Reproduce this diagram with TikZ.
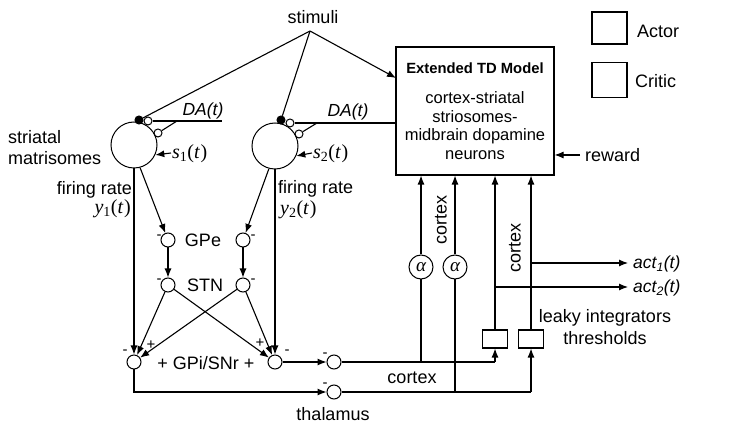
\documentclass[tikz,border=0pt]{standalone}
\usepackage{fontspec}
\setmainfont{Liberation Sans}
\newfontfamily\serifx{Liberation Serif}
\usetikzlibrary{arrows.meta}
\newcommand{\vsym}[2]{{\serifx\textit{#1}\textsubscript{#2}(\textit{t\kern1pt})}}
\begin{document}
\begin{tikzpicture}[x=1pt,y=-1pt,
  lbl/.style={font=\fontsize{18}{20}\selectfont, inner sep=0pt},
  small/.style={font=\fontsize{16.5}{19}\selectfont, inner sep=0pt},
  sgn/.style={font=\fontsize{15}{16}\selectfont, inner sep=0pt},
  mth/.style={font=\fontsize{20}{22}\selectfont, inner sep=0pt},
  neuron/.style={circle, draw, line width=1pt, minimum size=14pt, inner sep=0pt},
  tiny/.style={circle, draw, line width=1pt, minimum size=8pt, inner sep=0pt},
  bigc/.style={circle, draw, line width=1pt, minimum size=46pt, inner sep=0pt},
  arr/.style={-{Latex[length=9pt,width=7pt]}, line width=1.1pt},
  ln/.style={line width=1.1pt},
  boxs/.style={draw, line width=1.1pt, inner sep=0pt},
  ital/.style={font=\fontsize{17.5}{19}\selectfont\itshape, inner sep=0pt},
]
\useasboundingbox (0,0) rectangle (748,430);

% stimuli
\node[lbl] (stim) at (313,17) {stimuli};
\coordinate (sp) at (310,31);

% striatal circles
\node[bigc] (m1) at (134,145) {};
\node[bigc] (m2) at (275,146) {};
\node[tiny, fill=black] (b1) at (139,120) {};
\node[tiny] (o1) at (148,121) {};
\node[tiny] (p1) at (158,133) {};
\node[tiny, fill=black] (b2) at (281,120) {};
\node[tiny] (o2) at (290,123) {};
\node[tiny] (p2) at (299,134) {};

% TD box
\node[boxs, minimum width=158pt, minimum height=128pt] (td) at (475,111) {};
\node[small, font=\fontsize{14.8}{18}\selectfont\bfseries] (tdt) at (475,68) {Extended TD Model};
\node[small] (tdl1) at (475,98) {cortex-striatal};
\node[small] (tdl2) at (475,117) {striosomes-};
\node[small] (tdl3) at (475,136) {midbrain dopamine};
\node[small] (tdl4) at (475,155) {neurons};

% legend
\node[boxs, minimum width=35pt, minimum height=32pt] (actbox) at (609.5,28) {};
\node[lbl, anchor=west] (actlab) at (637,31) {Actor};
\node[boxs, minimum width=35pt, minimum height=35pt] (critbox) at (609.5,80) {};
\node[lbl, anchor=west] (critlab) at (635,81) {Critic};

% stimuli connections
\coordinate (tdin) at (396,78);
\draw[ln] (sp) -- (b1);
\draw[ln] (sp) -- (b2);
\draw[arr] (sp) -- (tdin);

% DA lines
\coordinate (da1e) at (222,121);
\coordinate (da1j) at (177,121);
\draw[ln] (o1) -- (da1e);
\draw[ln] (p1) -- (da1j);
\node[ital] (da1) at (203,111) {DA(t)};
\coordinate (da2e) at (td.west |- o2);
\coordinate (da2j) at (317,123);
\draw[ln] (o2) -- (da2e);
\draw[ln] (p2) -- (da2j);
\node[ital] (da2) at (348,112) {DA(t)};

% s inputs
\coordinate (s1s) at (171,153);
\coordinate (s2s) at (312,153);
\draw[arr] (s1s) -- (m1.-25);
\draw[arr] (s2s) -- (m2.-25);
\node[mth, anchor=west] (s1l) at (172,154) {\vsym{s}{1}};
\node[mth, anchor=west] (s2l) at (313,154) {\vsym{s}{2}};

% reward
\coordinate (rw) at (580,155);
\draw[arr] (rw) -- (td.east |- rw);
\node[lbl, anchor=west] (rwl) at (585,155) {reward};

% left labels
\node[lbl, anchor=west] (str1) at (8,137) {striatal};
\node[lbl, anchor=west] (str2) at (8,158) {matrisomes};
\node[lbl, anchor=east] (fr1) at (132,190) {firing rate};
\node[mth, anchor=east] (y1) at (131,209) {\vsym{y}{1}};
\node[lbl, anchor=west] (fr2) at (278,189) {firing rate};
\node[mth, anchor=west] (y2) at (280,210) {\vsym{y}{2}};

% basal ganglia nodes
\node[neuron] (gl) at (168,240) {};
\node[neuron] (gr) at (243,240) {};
\node[neuron] (sl) at (168,285) {};
\node[neuron] (sr) at (243,285) {};
\node[neuron] (pl) at (134,362) {};
\node[neuron] (pr) at (275,362) {};
\node[neuron] (t1) at (334,362) {};
\node[neuron] (t2) at (334,392) {};
\node[lbl] (gpe) at (203,240) {GPe};
\node[lbl] (stn) at (205,285) {STN};
\node[lbl] (gpi) at (206,363) {+ GPi/SNr +};
\node[lbl] (thal) at (333,414) {thalamus};
\node[sgn] at (159,237) {-};
\node[sgn] at (253,237) {-};
\node[sgn] at (159,281) {-};
\node[sgn] at (253,281) {-};
\node[sgn] at (125,352) {-};
\node[sgn] at (151,345) {+};
\node[sgn] at (260,343) {+};
\node[sgn] at (287,352) {-};
\node[sgn] at (325,355) {-};
\node[sgn] at (325,385) {-};

% striatum to BG
\draw[arr] (m1.south) -- (pl.north);
\draw[arr] (m1.-75) -- (gl);
\draw[arr] (m2.south) -- (pr.north);
\draw[arr] (m2.-105) -- (gr);
\draw[arr] (gl) -- (sl);
\draw[arr] (gr) -- (sr);
\draw[arr] (sl) -- (pl);
\draw[arr] (sl) -- (pr);
\draw[arr] (sr) -- (pr);
\draw[arr] (sr) -- (pl);
\draw[arr] (pr) -- (t1);
\draw[arr] (pl.south) |- (t2.west);

% alpha nodes and leaky integrators
\node[neuron, minimum size=24pt, font=\fontsize{19}{20}\selectfont\serifx\itshape] (a1) at (421,267) {α};
\node[neuron, minimum size=24pt, font=\fontsize{19}{20}\selectfont\serifx\itshape] (a2) at (455,267) {α};
\node[boxs, minimum width=25pt, minimum height=18pt] (k1) at (495,339) {};
\node[boxs, minimum width=25pt, minimum height=18pt] (k2) at (531,339) {};
\node[lbl] (leak1) at (605,318) {leaky integrators};
\node[lbl] (leak2) at (605,338) {thresholds};

\coordinate (c1) at (k1.south |- t1);
\coordinate (c2) at (k2.south |- t2);
\coordinate (ca1) at (a1 |- t1);
\coordinate (ca2) at (a2 |- t2);
\draw[ln] (t1) -- (c1);
\draw[arr] (c1) -- (k1.south);
\draw[ln] (t2) -- (c2);
\draw[arr] (c2) -- (k2.south);
\draw[ln] (ca1) -- (a1);
\draw[arr] (a1) -- (a1 |- td.south);
\draw[ln] (ca2) -- (a2);
\draw[arr] (a2) -- (a2 |- td.south);
\draw[arr] (k1.north) -- (k1.north |- td.south);
\draw[arr] (k2.north) -- (k2.north |- td.south);

% action outputs
\coordinate (ac1s) at (k2.north |- 0,263);
\coordinate (ac2s) at (k1.north |- 0,287);
\coordinate (ac1e) at (628,263);
\coordinate (ac2e) at (628,287);
\draw[arr] (ac1s) -- (ac1e);
\draw[arr] (ac2s) -- (ac2e);
\node[ital, anchor=west] (act1) at (633,264) {act\textsubscript{1}(t)};
\node[ital, anchor=west] (act2) at (633,288) {act\textsubscript{2}(t)};

% cortex labels
\node[lbl] (cx1) at (412,378) {cortex};
\node[lbl, rotate=90] (cx2) at (441,220) {cortex};
\node[lbl, rotate=90] (cx3) at (515,248) {cortex};
\end{tikzpicture}
\end{document}
